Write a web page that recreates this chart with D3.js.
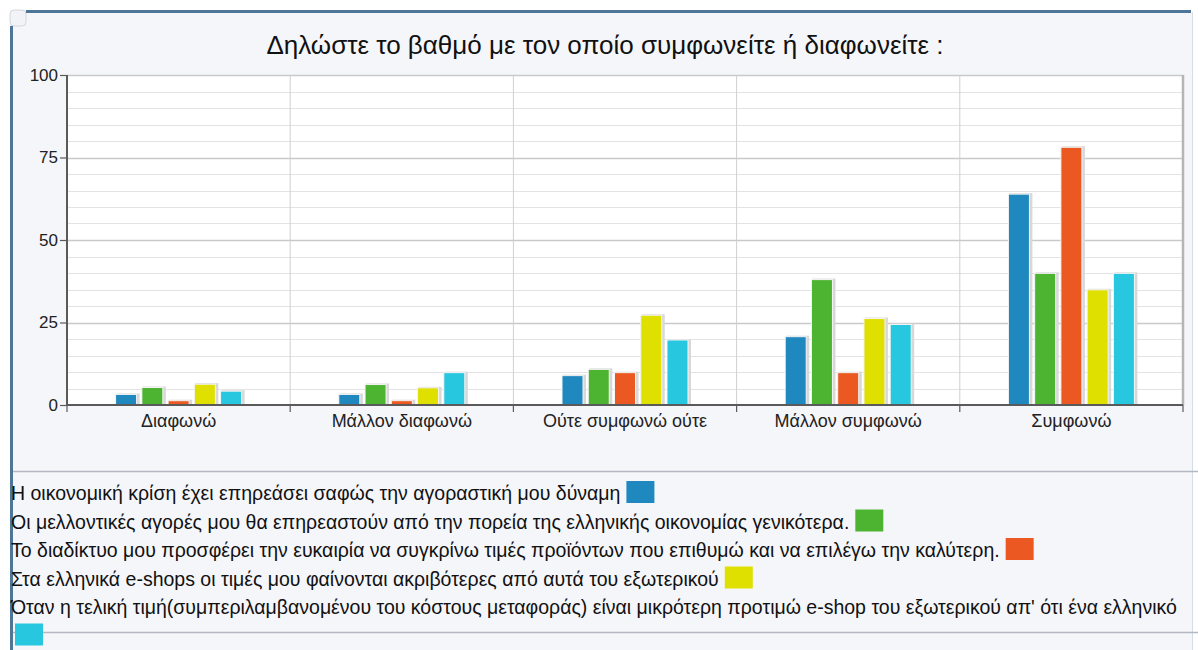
<!DOCTYPE html>
<html>
<head>
<meta charset="utf-8">
<script src="https://cdn.jsdelivr.net/npm/d3@7"></script>
<style>
  html, body { margin: 0; padding: 0; background: #ffffff; }
  svg { display: block; font-family: "Liberation Sans", Arial, sans-serif; }
</style>
</head>
<body>
<svg id="chart" width="1198" height="650"></svg>
<script>
// Survey answers (x categories)
const categories = ["Διαφωνώ", "Μάλλον διαφωνώ", "Ούτε συμφωνώ ούτε", "Μάλλον συμφωνώ", "Συμφωνώ"];

// One statement per series
const seriesNames = [
  "Η οικονομική κρίση έχει επηρεάσει σαφώς την αγοραστική μου δύναμη",
  "Οι μελλοντικές αγορές μου θα επηρεαστούν από την πορεία της ελληνικής οικονομίας γενικότερα.",
  "Το διαδίκτυο μου προσφέρει την ευκαιρία να συγκρίνω τιμές προϊόντων που επιθυμώ και να επιλέγω την καλύτερη.",
  "Στα ελληνικά e-shops οι τιμές μου φαίνονται ακριβότερες από αυτά του εξωτερικού",
  "Όταν η τελική τιμή(συμπεριλαμβανομένου του κόστους μεταφοράς) είναι μικρότερη προτιμώ e-shop του εξωτερικού απ' ότι ένα ελληνικό"
];

// Percentages per series, in category order
const crisis    = [3.2, 3.2, 8.9, 20.7, 63.9];
const future    = [5.3, 6.2, 10.8, 38.0, 39.9];
const internet  = [1.3, 1.3, 9.8, 9.8, 78.1];
const greekShop = [6.3, 5.2, 27.2, 26.2, 34.9];
const foreign   = [4.2, 9.8, 19.7, 24.4, 39.9];

const yTicks = [0, 25, 50, 75, 100];
const title = "Δηλώστε το βαθμό με τον οποίο συμφωνείτε ή διαφωνείτε :";

const colors = ["#1f88bf", "#4db431", "#ec5821", "#dfe000", "#26c7df"];
const seriesValues = [crisis, future, internet, greekShop, foreign];

const svg = d3.select("#chart");
const W = 1198, H = 650;

// Panel background and frame
svg.append("rect").attr("x", 12).attr("y", 12).attr("width", W - 18).attr("height", H - 12)
  .attr("fill", "#f5f6fa");
svg.append("line").attr("x1", 26).attr("x2", 1191).attr("y1", 11.5).attr("y2", 11.5)
  .attr("stroke", "#4d7698").attr("stroke-width", 3);
svg.append("line").attr("x1", 11.5).attr("x2", 11.5).attr("y1", 26).attr("y2", H)
  .attr("stroke", "#4d7698").attr("stroke-width", 3);
svg.append("line").attr("x1", 1192.5).attr("x2", 1192.5).attr("y1", 12).attr("y2", H)
  .attr("stroke", "#d7dde6").attr("stroke-width", 1);
svg.append("rect").attr("x", 10).attr("y", 10).attr("width", 16).attr("height", 16)
  .attr("rx", 4).attr("fill", "#f2f3f6").attr("stroke", "#d2d6dc");

// Title
svg.append("text").attr("x", 605).attr("y", 54).attr("text-anchor", "middle")
  .attr("font-size", 26).attr("fill", "#111").text(title);

// Plot geometry
const plot = { left: 67, right: 1183, top: 75, bottom: 405 };

const x0 = d3.scaleBand().domain(categories).range([plot.left, plot.right]).padding(0);
const bw = x0.bandwidth();
const groupW = 126;
const x1 = d3.scaleBand().domain(d3.range(seriesNames.length))
  .range([(bw - groupW) / 2, (bw + groupW) / 2]).paddingInner(0.2).paddingOuter(0);
const y = d3.scaleLinear().domain([0, 100]).range([plot.bottom, plot.top]);

// Plot background
svg.append("rect").attr("x", plot.left).attr("y", plot.top)
  .attr("width", plot.right - plot.left).attr("height", plot.bottom - plot.top)
  .attr("fill", "#ffffff");

// Horizontal grid: minor every 5, major every 25
const gridVals = d3.range(5, 101, 5);
svg.append("g").selectAll("line").data(gridVals).join("line")
  .attr("x1", plot.left).attr("x2", plot.right)
  .attr("y1", d => Math.round(y(d)) + 0.5).attr("y2", d => Math.round(y(d)) + 0.5)
  .attr("stroke", d => d % 25 === 0 ? "#c9c9c9" : "#e3e3e3")
  .attr("stroke-width", d => d % 25 === 0 ? 1.5 : 1.2);

// Vertical separators between categories
const bounds = categories.map(c => x0(c)).concat([plot.right]);
svg.append("g").selectAll("line").data(bounds.slice(1)).join("line")
  .attr("x1", d => d).attr("x2", d => d)
  .attr("y1", plot.top).attr("y2", plot.bottom)
  .attr("stroke", (d, i) => i === bounds.length - 2 ? "#b5b5b5" : "#cfcfcf")
  .attr("stroke-width", (d, i) => i === bounds.length - 2 ? 2.5 : 1);

// Bars
const barData = [];
categories.forEach((c, ci) => {
  seriesValues.forEach((vals, si) => barData.push({ c, si, v: vals[ci] }));
});
const bars = svg.append("g");
// soft shadow behind each bar
bars.selectAll("rect.shadow").data(barData).join("rect").attr("class", "shadow")
  .attr("x", d => x0(d.c) + x1(d.si) + 1)
  .attr("y", d => y(d.v) - 1)
  .attr("width", x1.bandwidth() + 2)
  .attr("height", d => y(0) - y(d.v) + 1)
  .attr("fill", "#d8d8d8");
bars.selectAll("rect.bar").data(barData).join("rect").attr("class", "bar")
  .attr("x", d => x0(d.c) + x1(d.si))
  .attr("y", d => y(d.v))
  .attr("width", x1.bandwidth())
  .attr("height", d => y(0) - y(d.v))
  .attr("fill", d => colors[d.si])
  .attr("stroke", "#f4f4f4").attr("stroke-width", 1);

// Y axis
const yAxis = svg.append("g").attr("transform", `translate(${plot.left},0)`)
  .call(d3.axisLeft(y).tickValues(yTicks).tickSize(7).tickPadding(2));
yAxis.select(".domain").attr("stroke", "#5a5a5a").attr("stroke-width", 2)
  .attr("d", `M0,${plot.top}V${plot.bottom}`);
yAxis.selectAll(".tick line").attr("stroke", "#5a5a5a").attr("stroke-width", 1.2);
yAxis.selectAll(".tick text").attr("font-size", 17).attr("fill", "#222")
  .attr("font-family", "Liberation Sans, Arial, sans-serif");

// X axis: baseline, boundary ticks, centred category labels
const xg = svg.append("g");
xg.append("line").attr("x1", plot.left).attr("x2", plot.right)
  .attr("y1", plot.bottom).attr("y2", plot.bottom)
  .attr("stroke", "#5a5a5a").attr("stroke-width", 2);
xg.selectAll("line.tk").data(bounds).join("line").attr("class", "tk")
  .attr("x1", d => d).attr("x2", d => d)
  .attr("y1", plot.bottom).attr("y2", plot.bottom + 7)
  .attr("stroke", "#5a5a5a").attr("stroke-width", 1.2);
xg.selectAll("text").data(categories).join("text")
  .attr("x", d => x0(d) + bw / 2).attr("y", plot.bottom + 22)
  .attr("text-anchor", "middle").attr("font-size", 18).attr("fill", "#222")
  .text(d => d);

// Legend
svg.append("line").attr("x1", 13).attr("x2", W).attr("y1", 471.5).attr("y2", 471.5)
  .attr("stroke", "#b4b8c0").attr("stroke-width", 1.5);
svg.append("line").attr("x1", 13).attr("x2", W).attr("y1", 632.5).attr("y2", 632.5)
  .attr("stroke", "#b4b8c0").attr("stroke-width", 1.5);

const legend = svg.append("g");
const rowH = 28.5, firstBase = 500, textX = 11;
const swW = 28, swH = 22;
let line = 0;
seriesNames.forEach((name, i) => {
  const base = firstBase + line * rowH;
  const t = legend.append("text").attr("x", textX).attr("y", base)
    .attr("font-size", 19.5).attr("fill", "#111").text(name);
  const tw = t.node().getComputedTextLength();
  let sx = textX + tw + 6, sb = base;
  if (sx + swW > W - 4) { line += 1; sx = 15; sb = firstBase + line * rowH; }
  legend.append("rect").attr("x", sx).attr("y", sb - 19).attr("width", swW).attr("height", swH)
    .attr("fill", colors[i]);
  line += 1;
});
</script>
</body>
</html>
